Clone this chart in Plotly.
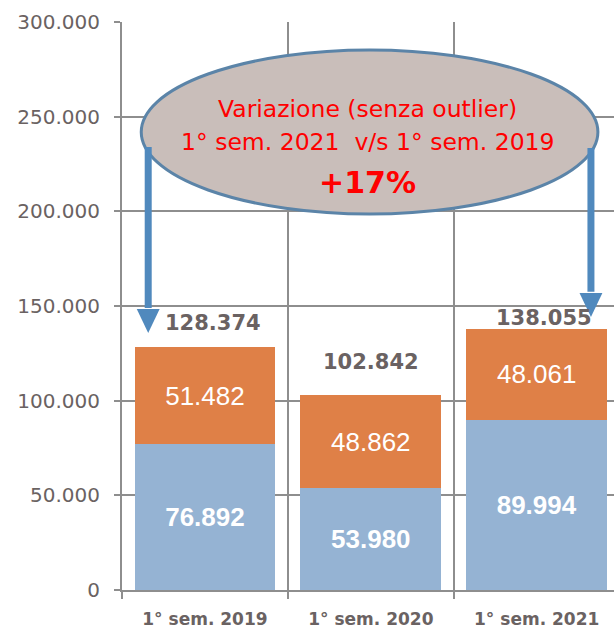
import plotly.graph_objects as go

categories = ["1° sem. 2019", "1° sem. 2020", "1° sem. 2021"]
blue_values = [76892, 53980, 89994]
orange_values = [51482, 48862, 48061]
totals = [b + o for b, o in zip(blue_values, orange_values)]
total_labels = ["128.374", "102.842", "138.055"]
y_ticks = [0, 50000, 100000, 150000, 200000, 250000, 300000]
y_tick_labels = ["0", "50.000", "100.000", "150.000", "200.000", "250.000", "300.000"]

total_xshift = [8, 0, 7]
total_yshift = [24, 33, 11]

GRAY_TXT = "#6a6262"
GRID = "#8e8e8e"
ARROW = "#5089bd"

fig = go.Figure()
fig.add_trace(go.Bar(
    x=categories, y=blue_values, marker=dict(color="#95b3d3", line=dict(width=0)),
    texttemplate="%{y:,}", textposition="inside", insidetextanchor="middle",
    textfont=dict(family="Liberation Sans", size=26, color="white", weight="bold"),
    showlegend=False, hoverinfo="skip"))
fig.add_trace(go.Bar(
    x=categories, y=orange_values, marker=dict(color="#df8047", line=dict(width=0)),
    texttemplate="%{y:,}", textposition="inside", insidetextanchor="middle",
    textfont=dict(family="Liberation Sans", size=26, color="white"),
    showlegend=False, hoverinfo="skip"))

annotations = []
for c, t, lab, xs, ys in zip(categories, totals, total_labels, total_xshift, total_yshift):
    annotations.append(dict(x=c, y=t, text=lab, showarrow=False, xshift=xs, yshift=ys,
                            yanchor="middle",
                            font=dict(family="DejaVu Sans", size=21, color=GRAY_TXT, weight="bold")))

# ellipse text
cx = 0.98
annotations += [
    dict(x=cx, y=254000, text="Variazione (senza outlier)", showarrow=False, yanchor="middle",
         font=dict(family="DejaVu Sans", size=23.5, color="#ff0000")),
    dict(x=cx, y=236500, text="1° sem. 2021  v/s 1° sem. 2019", showarrow=False, yanchor="middle",
         font=dict(family="DejaVu Sans", size=23.5, color="#ff0000")),
    dict(x=cx, y=215000, text="+17%", showarrow=False, yanchor="middle",
         font=dict(family="DejaVu Sans", size=30, color="#ff0000", weight="bold")),
]

shapes = [
    dict(type="circle", xref="x", yref="y", x0=-0.384, x1=2.369, y0=198600, y1=285200,
         fillcolor="#c9beba", line=dict(color="#5b84a8", width=3), layer="above"),
    # left arrow
    dict(type="line", xref="x", yref="y", x0=-0.342, x1=-0.342, y0=234000, y1=149000,
         line=dict(color=ARROW, width=7), layer="above"),
    dict(type="path", xref="x", yref="y",
         path="M -0.411 148400 L -0.273 148400 L -0.342 135700 Z",
         fillcolor=ARROW, line=dict(width=0), layer="above"),
    # right arrow
    dict(type="line", xref="x", yref="y", x0=2.327, x1=2.327, y0=233500, y1=157500,
         line=dict(color=ARROW, width=7), layer="above"),
    dict(type="path", xref="x", yref="y",
         path="M 2.258 156900 L 2.396 156900 L 2.327 144200 Z",
         fillcolor=ARROW, line=dict(width=0), layer="above"),
]

fig.update_layout(
    width=614, height=629,
    margin=dict(l=122, r=0, t=22, b=39, pad=0),
    barmode="stack", bargap=0.152,
    paper_bgcolor="white", plot_bgcolor="white",
    separators=",.",
    annotations=annotations, shapes=shapes,
    xaxis=dict(type="category", range=[-0.5, 2.466], tickson="boundaries",
               showgrid=True, gridcolor=GRID, gridwidth=2,
               showline=True, linecolor=GRID, linewidth=2,
               ticks="outside", ticklen=7, tickwidth=2, tickcolor=GRID,
               tickfont=dict(family="DejaVu Sans", size=17, color=GRAY_TXT, weight="bold"),
               ticklabelstandoff=13, fixedrange=True),
    yaxis=dict(range=[0, 300000], tickvals=y_ticks, ticktext=y_tick_labels,
               showgrid=True, gridcolor=GRID, gridwidth=2,
               showline=True, linecolor=GRID, linewidth=2,
               ticks="outside", ticklen=6, tickwidth=2, tickcolor=GRID,
               tickfont=dict(family="DejaVu Sans", size=20, color=GRAY_TXT),
               ticklabelstandoff=10, zeroline=False, fixedrange=True),
)

fig.write_html("out.html", config={"displayModeBar": False},
               post_script="document.body.style.margin='0';document.body.style.overflow='hidden';")
